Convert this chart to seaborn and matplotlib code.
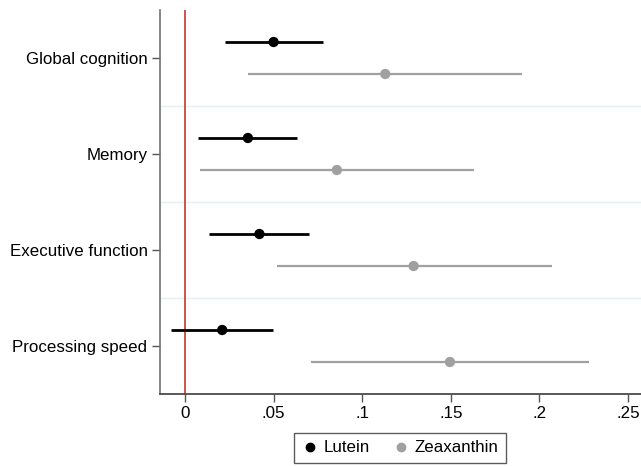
import numpy as np
import pandas as pd
import seaborn as sns
import matplotlib.pyplot as plt

# outcomes (top to bottom)
outcomes = ['Global cognition', 'Memory', 'Executive function', 'Processing speed']
# Lutein: estimate and 95% CI
lutein_est = [0.050, 0.0355, 0.042, 0.021]
lutein_lo = [0.0226, 0.0075, 0.0135, -0.008]
lutein_hi = [0.078, 0.063, 0.070, 0.0497]
# Zeaxanthin: estimate and 95% CI
zea_est = [0.113, 0.0857, 0.129, 0.1495]
zea_lo = [0.0356, 0.0085, 0.052, 0.071]
zea_hi = [0.190, 0.163, 0.207, 0.228]
x_ticks = [0, 0.05, 0.1, 0.15, 0.2, 0.25]
x_labels = ['0', '.05', '.1', '.15', '.2', '.25']

sns.set_theme(style="white")
plt.rcParams['font.family'] = ['Liberation Sans', 'DejaVu Sans']
plt.rcParams['text.color'] = 'black'
plt.rcParams['xtick.labelcolor'] = 'black'
plt.rcParams['ytick.labelcolor'] = 'black'

df = pd.DataFrame({
    'outcome': outcomes * 2,
    'pos': list(range(len(outcomes))) * 2,
    'est': lutein_est + zea_est,
    'lo': lutein_lo + zea_lo,
    'hi': lutein_hi + zea_hi,
    'nutrient': ['Lutein'] * 4 + ['Zeaxanthin'] * 4,
})
offset = {'Lutein': -1 / 6, 'Zeaxanthin': 1 / 6}
df['y'] = df['pos'] + df['nutrient'].map(offset)
colors = {'Lutein': 'black', 'Zeaxanthin': '#a0a0a0'}
widths = {'Lutein': 2.0, 'Zeaxanthin': 1.6}

fig = plt.figure(figsize=(6.41, 4.66), dpi=100)
ax = fig.add_axes([160 / 641, 1 - 394 / 466, 1 - 160 / 641, 384 / 466])

# separators between outcomes
for b in [0.5, 1.5, 2.5]:
    ax.axhline(b, color='#e6f0f2', lw=1, zorder=0)
ax.axvline(0, color='#c0392b', lw=1.2, zorder=1)

for nut, sub in df.groupby('nutrient'):
    ax.hlines(sub['y'], sub['lo'], sub['hi'], color=colors[nut], lw=widths[nut], zorder=2)

sns.scatterplot(data=df, x='est', y='y', hue='nutrient', palette=colors,
                s=55, edgecolor='none', ax=ax, zorder=3, legend=False)

fs = 12.2
ax.set_xlim(-0.0141, 0.2573)
ax.set_ylim(3.5, -0.5)
ax.set_yticks(range(len(outcomes)))
ax.set_yticklabels(outcomes, fontsize=fs)
ax.set_xticks(x_ticks)
ax.set_xticklabels(x_labels, fontsize=fs)
ax.set_xlabel('')
ax.set_ylabel('')
ax.tick_params(axis='both', direction='out', length=6, width=1, color='#555555',
               left=True, bottom=True, pad=3)
sns.despine(ax=ax, top=True, right=True)
ax.spines['left'].set_color('#777777')
ax.spines['bottom'].set_color('#444444')

handles = [plt.Line2D([], [], ls='', marker='o', ms=6, color=colors[n], label=n)
           for n in ['Lutein', 'Zeaxanthin']]
fig.legend(handles=handles, loc='center', bbox_to_anchor=(400 / 641, 1 - 448 / 466),
           ncol=2, frameon=True, fancybox=False, edgecolor='#333333', fontsize=fs,
           handletextpad=0.3, columnspacing=1.3, handlelength=1.0, borderpad=0.45)

fig.savefig('out.png', dpi=100)
